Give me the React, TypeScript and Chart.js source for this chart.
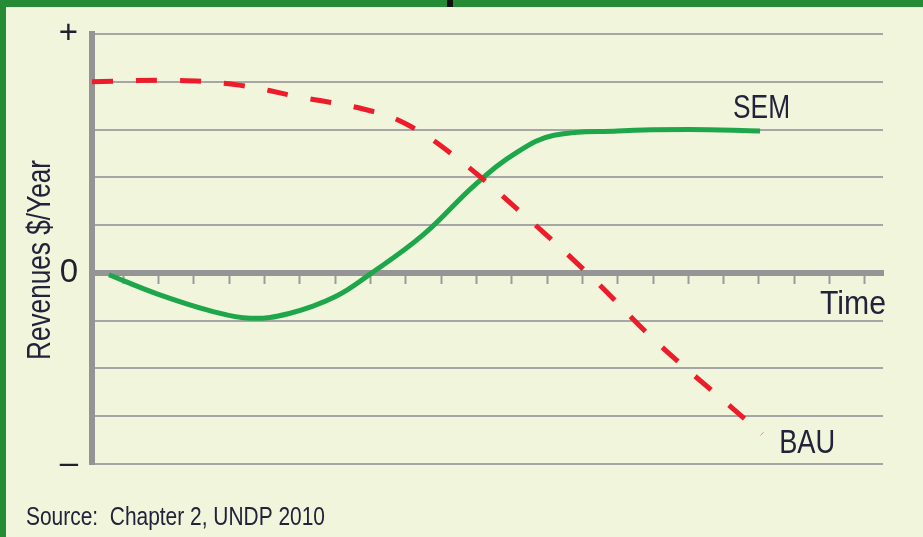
import React, { useEffect, useRef } from "react";
import { Chart, registerables } from "chart.js";

Chart.register(...registerables);

// ---- data ----
const timeTicks = [1, 2, 3, 4, 5, 6, 7, 8, 9, 10, 11, 12, 13, 14, 15, 16, 17, 18, 19, 20, 21, 22];
const yTickLabels: Record<string, string> = { "5": "+", "0": "0", "-4": "–" };

const bauX = [0.12, 2.5, 4.28, 6.0, 7.8, 9.0, 10.37, 12.35, 14.25, 16.06, 18.04, 19.09];
const bauY = [4.0, 4.03, 3.93, 3.68, 3.43, 3.12, 2.45, 1.21, -0.08, -1.42, -2.7, -3.37];

const semX = [0.6, 2.0, 3.5, 4.6, 5.7, 7.0, 8.0, 9.5, 11.0, 12.2, 13.2, 15.0, 17.0, 19.03];
const semY = [-0.04, -0.45, -0.8, -0.95, -0.85, -0.5, -0.02, 0.8, 1.87, 2.55, 2.88, 2.97, 3.0, 2.97];

const seriesNames = ["SEM", "BAU"];
const xTitle = "Time";
const yTitle = "Revenues $/Year";
const sourceNote = "Source:  Chapter 2, UNDP 2010";

const FONT = "'Liberation Sans Narrow', 'Liberation Sans', Arial, sans-serif";
const TEXT = "#22223a";

const labelsPlugin = {
  id: "labelsPlugin",
  afterDraw(chart: any) {
    const ctx = chart.ctx;
    const xs = chart.scales.x;
    const ys = chart.scales.y;
    const area = chart.chartArea;
    ctx.save();
    ctx.fillStyle = TEXT;
    ctx.textBaseline = "alphabetic";
    ctx.textAlign = "left";
    ctx.font = `33px ${FONT}`;
    const semEndX = xs.getPixelForValue(semX[semX.length - 1]);
    const semEndY = ys.getPixelForValue(semY[semY.length - 1]);
    ctx.fillText(seriesNames[0], semEndX - 27, semEndY - 13, 57);
    const bauEndX = xs.getPixelForValue(bauX[bauX.length - 1]);
    const bauEndY = ys.getPixelForValue(bauY[bauY.length - 1]);
    ctx.fillText(seriesNames[1], bauEndX + 17, bauEndY + 19, 56);
    const zeroY = ys.getPixelForValue(0);
    ctx.textAlign = "right";
    ctx.fillText(xTitle, area.right + 3, zeroY + 41, 66);
    ctx.save();
    ctx.translate(50, (area.top + area.bottom) / 2 + 11);
    ctx.rotate(-Math.PI / 2);
    ctx.textAlign = "center";
    ctx.font = `33px ${FONT}`;
    ctx.fillText(yTitle, 0, 0, 200);
    ctx.restore();
    ctx.textAlign = "left";
    ctx.font = `26px ${FONT}`;
    ctx.fillText(sourceNote, 26, 525, 299);
    ctx.restore();
  },
};

export default function App() {
  const ref = useRef<HTMLCanvasElement | null>(null);
  useEffect(() => {
    document.body.style.margin = "0";
    if (!ref.current) return;
    const chart = new Chart(ref.current, {
      type: "line",
      data: {
        datasets: [
          {
            label: seriesNames[1],
            data: bauX.map((x, i) => ({ x, y: bauY[i] })),
            borderColor: "#EC1C2A",
            borderWidth: 5,
            borderDash: [21, 23],
            borderCapStyle: "butt",
            pointRadius: 0,
            tension: 0.4,
            fill: false,
          },
          {
            label: seriesNames[0],
            data: semX.map((x, i) => ({ x, y: semY[i] })),
            borderColor: "#1EA64A",
            borderWidth: 5,
            pointRadius: 0,
            tension: 0.4,
            fill: false,
          },
        ],
      },
      options: {
        animation: false,
        responsive: false,
        maintainAspectRatio: false,
        events: [],
        layout: { padding: { left: 0, right: 40, top: 34, bottom: 73 } },
        plugins: { legend: { display: false }, tooltip: { enabled: false }, title: { display: false } },
        scales: {
          x: {
            type: "linear",
            position: { y: 0 } as any,
            min: 0.12,
            max: 22.51,
            afterBuildTicks: (scale: any) => {
              scale.ticks = timeTicks.map((v) => ({ value: v }));
            },
            afterFit: (scale: any) => {
              scale.height = 0;
            },
            ticks: { display: false },
            grid: {
              drawOnChartArea: false,
              drawTicks: true,
              tickLength: 8,
              tickWidth: 2,
              tickColor: "#9a9a9a",
            },
            border: { display: true, color: "#959595", width: 6 },
          },
          y: {
            type: "linear",
            min: -4,
            max: 5,
            afterFit: (scale: any) => {
              scale.width = 92;
            },
            ticks: {
              stepSize: 1,
              padding: 14,
              color: "#20202e",
              font: { family: FONT, size: 33 },
              callback: (v: any) => yTickLabels[String(v)] ?? "",
            },
            grid: { color: "#a6a6a6", lineWidth: 2, drawTicks: false },
            border: { display: true, color: "#949494", width: 6 },
          },
        },
      },
      plugins: [labelsPlugin],
    });
    return () => chart.destroy();
  }, []);

  return (
    <div style={{ position: "relative", width: 923, height: 537, background: "#F1F5DC", overflow: "hidden" }}>
      <div style={{ position: "absolute", left: 0, top: 0, width: 923, height: 7, background: "#268B35" }} />
      <div style={{ position: "absolute", left: 0, top: 0, width: 6, height: 537, background: "#268B35" }} />
      <div style={{ position: "absolute", left: 447, top: 0, width: 6, height: 7, background: "#111" }} />
      <canvas ref={ref} width={923} height={537} style={{ position: "absolute", left: 0, top: 0 }} />
    </div>
  );
}
